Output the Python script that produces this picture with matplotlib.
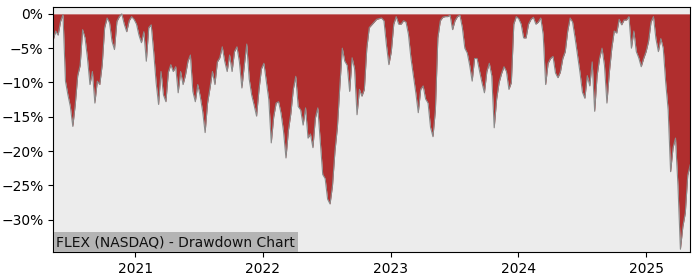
import numpy as np
import pandas as pd
import matplotlib
matplotlib.use("Agg")
import matplotlib.pyplot as plt
import matplotlib.dates as mdates
from matplotlib.ticker import PercentFormatter

# weekly drawdown of FLEX, percent below running high
start = "2020-05-12"
drawdown = [
    -3.8, -2.5, -3.1, -1.1, -0.1, -9.8, -11.8, -13.5, -16.4, -13.2,
    -9.0, -7.5, -2.3, -3.5, -6.5, -10.3, -8.4, -13.0, -9.8, -10.3,
    -7.4, -2.0, -0.6, -1.3, -4.0, -5.2, -1.1, -0.4, 0.0, -1.5,
    -2.6, -1.0, -0.4, -0.8, -1.5, -3.1, -4.2, -2.6, -6.9, -2.0,
    -1.6, -5.5, -10.0, -13.2, -8.4, -11.8, -12.8, -8.5, -7.4, -8.4,
    -7.7, -11.5, -8.4, -10.3, -8.9, -6.9, -6.0, -11.3, -12.8, -10.3,
    -12.0, -14.2, -17.3, -13.0, -10.8, -8.4, -10.3, -7.0, -6.4, -4.8,
    -6.9, -8.4, -6.0, -8.4, -5.5, -4.8, -7.0, -10.8, -7.5, -4.4,
    -9.5, -11.8, -13.3, -14.9, -11.0, -8.0, -7.2, -9.9, -12.5, -18.8,
    -15.0, -13.0, -12.8, -14.5, -17.1, -21.0, -17.0, -14.5, -11.0, -9.1,
    -13.5, -14.0, -16.2, -13.7, -18.1, -17.5, -19.5, -15.2, -13.7, -18.5,
    -23.4, -24.0, -27.0, -27.7, -25.0, -20.0, -16.5, -10.5, -5.0, -6.9,
    -7.5, -11.3, -6.4, -8.0, -14.7, -11.0, -12.0, -11.0, -5.0, -2.0,
    -1.6, -1.2, -0.8, -0.7, -0.6, -1.0, -4.5, -7.4, -5.5, -1.5,
    -0.4, -1.5, -1.5, -1.0, -1.2, -3.0, -6.4, -9.0, -11.5, -14.4,
    -11.0, -10.5, -12.4, -13.0, -16.5, -17.9, -14.0, -3.5, -1.0, -0.5,
    -0.4, -0.4, -0.2, -2.3, -1.0, -0.4, -0.2, -2.0, -5.0, -5.7,
    -7.5, -9.8, -6.5, -6.5, -8.3, -10.0, -11.5, -8.4, -7.2, -9.0,
    -16.6, -12.4, -10.0, -8.7, -7.7, -8.4, -11.0, -10.0, -1.5, -0.4,
    -0.7, -1.5, -3.5, -3.5, -1.5, -0.8, -0.5, -1.5, -1.2, -0.6,
    -3.0, -10.3, -7.2, -6.5, -6.2, -8.6, -9.3, -8.5, -6.5, -5.5,
    -2.5, -0.6, -1.2, -3.5, -6.0, -8.5, -11.4, -12.3, -9.0, -10.5,
    -7.0, -14.2, -9.0, -6.5, -5.0, -7.5, -13.0, -8.5, -5.0, -2.5,
    -2.8, -0.8, -1.6, -0.9, -0.9, -0.4, -5.0, -2.5, -5.5, -6.4,
    -7.7, -6.5, -5.5, -4.0, -1.2, -0.4, -3.6, -5.5, -3.6, -5.0,
    -10.0, -14.0, -23.0, -19.5, -18.1, -25.0, -34.3, -31.0, -29.0, -23.5,
    -22.0,
]
dates = pd.date_range(start, periods=len(drawdown), freq="7D")
dd = np.array(drawdown)

fig = plt.figure(figsize=(7, 2.8), dpi=100)
ax = fig.add_axes([0.076, 0.1, 0.91, 0.875])
ax.set_facecolor("#ececec")

ax.fill_between(dates, dd, 0, color="#b02e2e", linewidth=0)
ax.plot(dates, dd, color="#8a8a8a", linewidth=0.8)

ax.set_xlim(dates[0], dates[-1])
ax.set_ylim(-34.7, 1.0)
ax.yaxis.set_major_locator(plt.MultipleLocator(5))
ax.yaxis.set_major_formatter(PercentFormatter(100, decimals=0))
ax.xaxis.set_major_locator(mdates.YearLocator())
ax.xaxis.set_major_formatter(mdates.DateFormatter("%Y"))
ax.tick_params(labelsize=10)

ax.text(0.005, 0.012, "FLEX (NASDAQ) - Drawdown Chart", transform=ax.transAxes,
        fontsize=10, color="#111111", ha="left", va="bottom",
        bbox=dict(facecolor="#b4b4b4", edgecolor="none", pad=2))

fig.savefig("out.png", dpi=100)
